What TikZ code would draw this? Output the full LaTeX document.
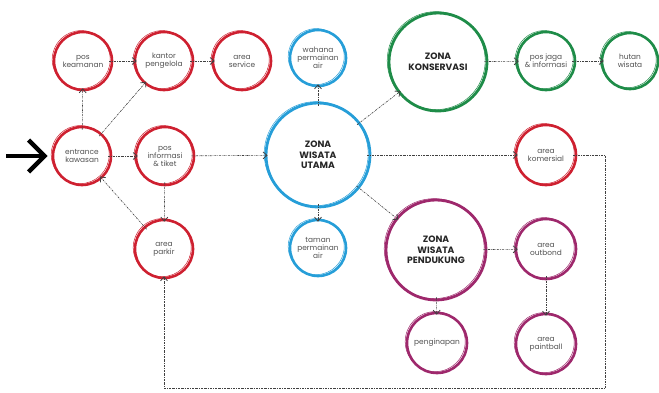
\documentclass[tikz,border=0pt]{standalone}
\usepackage{fontspec}
\setmainfont{Poppins}
\usepackage{tikz}
\usetikzlibrary{calc}
\usetikzlibrary{positioning}
\usetikzlibrary{arrows.meta}
\definecolor{zred}{RGB}{206,32,48}
\definecolor{zblue}{RGB}{38,158,216}
\definecolor{zgreen}{RGB}{30,140,72}
\definecolor{zpurple}{RGB}{158,40,108}
\definecolor{ztext}{RGB}{80,80,80}
\tikzstyle{ring} = [draw, circle, line width=2.6pt, inner sep=0pt, align=center, text=ztext, font=\fontsize{7.4}{8}\selectfont,
  postaction={draw, line width=0.5pt, transform canvas={xshift=-1.8pt, yshift=1.4pt}}]
\tikzstyle{small} = [ring, minimum size=58pt]
\tikzstyle{zone} = [ring, minimum size=98pt, line width=2.8pt, font=\fontsize{9.2}{10.6}\selectfont\bfseries, text=black!85]
\tikzstyle{colorR} = [draw=zred]
\tikzstyle{colorB} = [draw=zblue]
\tikzstyle{colorG} = [draw=zgreen]
\tikzstyle{colorP} = [draw=zpurple]
\tikzstyle{link} = [draw=black!75, line width=0.6pt, dash pattern=on 2pt off 1pt on 0.6pt off 1pt,
  -{Straight Barb[length=4pt,width=7pt,line width=0.8pt]}, shorten >=-3pt, shorten <=-4pt]

\begin{document}
\begin{tikzpicture}[x=1pt, y=-1pt]
    \useasboundingbox (0,0) rectangle (659,392);

    % entrance group
    \node[small, colorR] (ent) at (82,156) {entrance\\kawasan};
    \node[small, colorR] (keam) at ($(ent)+(1,-95)$) {pos\\keamanan};
    \node[small, colorR] (kantor) at ($(keam)+(81,0)$) {kantor\\pengelola};
    \node[small, colorR] (service) at ($(kantor)+(78,0)$) {area\\service};
    \node[small, colorR] (posinfo) at ($(ent)+(83,0)$) {pos\\informasi\\\& tiket};
    \node[small, colorR] (parkir) at ($(posinfo)+(-1,93)$) {area\\parkir};

    % zona wisata utama
    \node[zone, colorB, minimum size=104pt] (utama) at (318,155) {ZONA\\WISATA\\UTAMA};
    \node[small, colorB, minimum size=56pt] (wahana) at ($(utama)+(0,-97)$) {wahana\\permainan\\air};
    \node[small, colorB, minimum size=56pt] (taman) at ($(utama)+(0,93)$) {taman\\permainan\\air};
    \node[small, colorR, minimum size=60pt] (komersial) at (546,155) {area\\komersial};

    % zona konservasi
    \node[zone, colorG] (konserv) at (438,62) {ZONA\\KONSERVASI};
    \node[small, colorG] (posjaga) at ($(konserv)+(108,-1)$) {pos jaga\\\& informasi};
    \node[small, colorG, minimum size=56pt] (hutan) at ($(posjaga)+(84,0)$) {hutan\\wisata};

    % zona wisata pendukung
    \node[zone, colorP, minimum size=100pt] (pendukung) at (436,250) {ZONA\\WISATA\\PENDUKUNG};
    \node[small, colorP, minimum size=60pt] (outbond) at ($(pendukung)+(110,-1)$) {area\\outbond};
    \node[small, colorP, minimum size=60pt] (penginapan) at ($(pendukung)+(1,93)$) {penginapan};
    \node[small, colorP, minimum size=60pt] (paintball) at ($(outbond)+(0,95)$) {area\\paintball};

    % incoming arrow
    \coordinate (in) at (6,156);
    \draw[line width=4.5pt, -{Straight Barb[length=16pt,width=32pt,line width=4.5pt]}] (in) -- ($(ent.west)+(-4,0)$);

    \draw[link] (ent) -- (keam);
    \draw[link] (ent) -- (kantor);
    \draw[link] (keam) -- (kantor);
    \draw[link] (kantor) -- (service);
    \draw[link] (ent) -- (posinfo);
    \draw[link] (posinfo) -- (utama);
    \draw[link] (posinfo) -- (parkir);
    \draw[link] (parkir) -- (ent);

    \draw[link] (utama) -- (wahana);
    \draw[link] (utama) -- (taman);
    \draw[link] (utama) -- (konserv);
    \draw[link] (konserv) -- (posjaga);
    \draw[link] (posjaga) -- (hutan);
    \draw[link] (utama) -- (komersial);
    \draw[link] (utama) -- (pendukung);
    \draw[link] (pendukung) -- (outbond);
    \draw[link] (pendukung) -- (penginapan);
    \draw[link] (outbond) -- (paintball);

    % loop back to parking
    \coordinate (loopA) at (605,155);
    \coordinate (loopB) at (605,388);
    \draw[link] (komersial) -- (loopA) -- (loopB) -| (parkir);
\end{tikzpicture}
\end{document}
